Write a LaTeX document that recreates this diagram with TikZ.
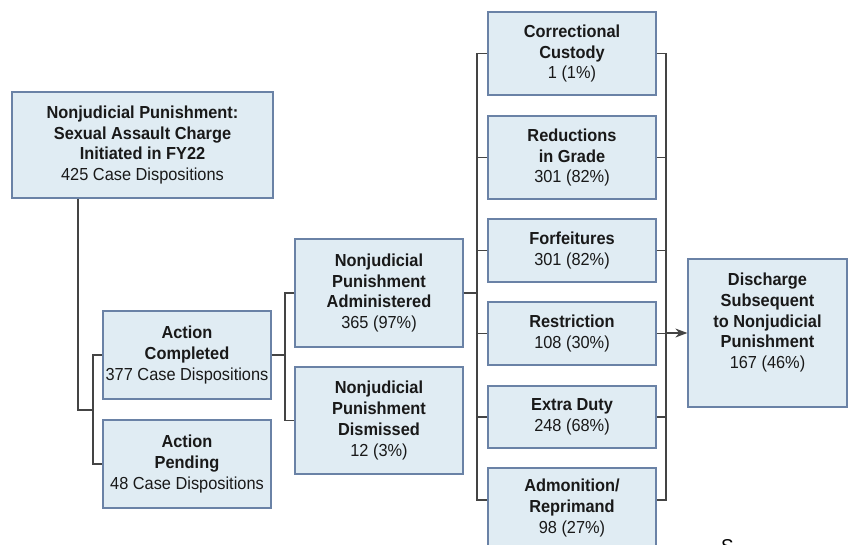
\documentclass[tikz,border=0pt]{standalone}
\usepackage{fontspec}
\setmainfont{Liberation Sans}[FakeStretch=0.94]
\usetikzlibrary{arrows.meta}
\definecolor{boxfill}{HTML}{E0ECF3}
\definecolor{boxline}{HTML}{6A82A6}
\definecolor{conn}{HTML}{444444}
\tikzset{
  box/.style={draw=boxline, line width=1.3pt, fill=boxfill, rectangle, align=center,
    inner sep=1pt, font=\fontsize{17.4}{20.7}\selectfont, text=black!90},
  link/.style={draw=conn, line width=1.15pt},
}
\begin{document}
\begin{tikzpicture}[x=1pt,y=-1pt]
\path[use as bounding box, fill=white] (0,0) rectangle (848,544);
\clip (0,0) rectangle (848,544);

\node[box, minimum width=261pt, minimum height=106pt] (A) at (142.5,145)
  {\textbf{Nonjudicial Punishment:}\\\textbf{Sexual Assault Charge}\\\textbf{Initiated in FY22}\\425 Case Dispositions};
\node[box, minimum width=168pt, minimum height=88pt] (B) at (187,355)
  {\textbf{Action}\\\textbf{Completed}\\377 Case Dispositions};
\node[box, minimum width=168pt, minimum height=88pt] (C) at (187,464)
  {\textbf{Action}\\\textbf{Pending}\\48 Case Dispositions};
\node[box, minimum width=168pt, minimum height=108pt] (D) at (379,293)
  {\textbf{Nonjudicial}\\\textbf{Punishment}\\\textbf{Administered}\\365 (97\%)};
\node[box, minimum width=168pt, minimum height=107pt] (E) at (379,420.5)
  {\textbf{Nonjudicial}\\\textbf{Punishment}\\\textbf{Dismissed}\\12 (3\%)};

\node[box, minimum width=168pt, minimum height=83pt] (P1) at (572,53.5)
  {\textbf{Correctional}\\\textbf{Custody}\\1 (1\%)};
\node[box, minimum width=168pt, minimum height=83pt] (P2) at (572,157.5)
  {\textbf{Reductions}\\\textbf{in Grade}\\301 (82\%)};
\node[box, minimum width=168pt, minimum height=63pt] (P3) at (572,250.5)
  {\textbf{Forfeitures}\\301 (82\%)};
\node[box, minimum width=168pt, minimum height=63pt] (P4) at (572,333.5)
  {\textbf{Restriction}\\108 (30\%)};
\node[box, minimum width=168pt, minimum height=62pt] (P5) at (572,417)
  {\textbf{Extra Duty}\\248 (68\%)};
\node[box, minimum width=168pt, minimum height=80pt] (P6) at (572,508)
  {\textbf{Admonition/}\\\textbf{Reprimand}\\98 (27\%)};

\node[box, minimum width=159pt, minimum height=148pt] (F) at (767.5,333) {};
\node[align=center, anchor=north, inner sep=0pt, font=\fontsize{17.4}{20.7}\selectfont, text=black!90] (Ft) at (767.5,273)
  {\textbf{Discharge}\\\textbf{Subsequent}\\\textbf{to Nonjudicial}\\\textbf{Punishment}\\167 (46\%)};

\node[anchor=base west, inner sep=0pt, font=\fontsize{20}{24}\selectfont] (S) at (721,553.5) {S};

% connectors
\coordinate (ax) at (78,0);
\coordinate (busA) at (93,410);
\draw[link] (A.south -| ax) |- (busA);
\draw[link] (B.west) -| (busA) |- (C.west);

\coordinate (busB) at (285,355);
\draw[link] (B.east) -- (busB);
\draw[link] (D.west) -| (busB) |- (E.west);

\coordinate (busL) at (477,293);
\draw[link] (D.east) -- (busL);
\draw[link] (P1.west) -| (busL) |- ([yshift=8pt]P6.west);
\foreach \p in {P2,P3,P4,P5} \draw[link] (\p.west) -- (\p.west -| busL);

\coordinate (busR) at (666,333);
\draw[link] (P1.east) -| (busR) |- ([yshift=8pt]P6.east);
\foreach \p in {P2,P3,P4,P5} \draw[link] (\p.east) -- (\p.east -| busR);
\draw[link, -{Stealth[length=12pt,width=9pt]}] (busR) -- (F.west);
\end{tikzpicture}
\end{document}
